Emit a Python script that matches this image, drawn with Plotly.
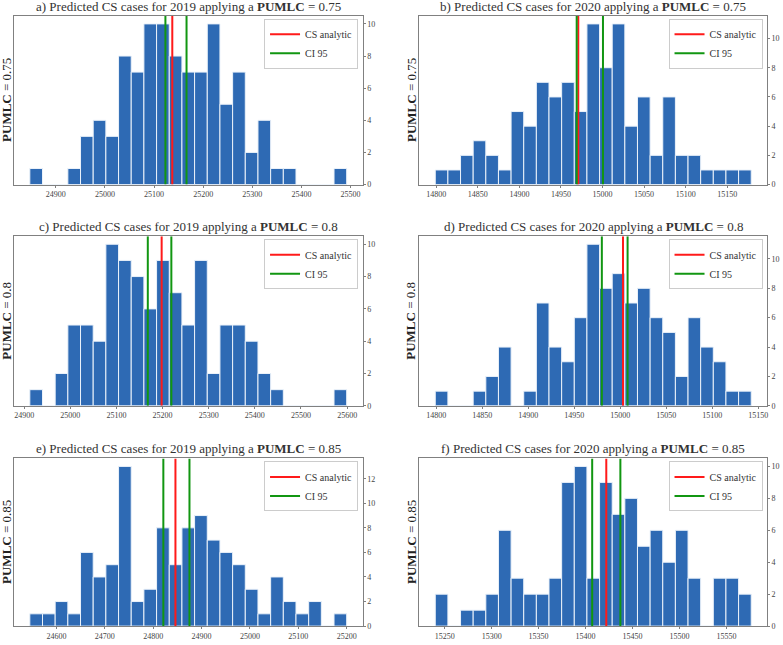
import plotly.graph_objects as go

W, H = 783, 645

# ---------------- data ----------------
titles = [
    "a) Predicted CS cases for 2019 applying a <b>PUMLC</b> = 0.75",
    "b) Predicted CS cases for 2020 applying a <b>PUMLC</b> = 0.75",
    "c) Predicted CS cases for 2019 applying a <b>PUMLC</b> = 0.8",
    "d) Predicted CS cases for 2020 applying a <b>PUMLC</b> = 0.8",
    "e) Predicted CS cases for 2019 applying a <b>PUMLC</b> = 0.85",
    "f) Predicted CS cases for 2020 applying a <b>PUMLC</b> = 0.85",
]
ylabels = [
    "<b>PUMLC</b> = 0.75", "<b>PUMLC</b> = 0.75",
    "<b>PUMLC</b> = 0.8", "<b>PUMLC</b> = 0.8",
    "<b>PUMLC</b> = 0.85", "<b>PUMLC</b> = 0.85",
]

counts_a = [1, 0, 0, 1, 3, 4, 3, 8, 7, 10, 10, 8, 7, 7, 10, 5, 7, 2, 4, 1, 1, 0, 0, 0, 1]
counts_b = [1, 1, 2, 3, 2, 1, 5, 4, 7, 6, 7, 5, 11, 8, 11, 4, 6, 2, 6, 2, 2, 1, 1, 1, 1]
counts_c = [1, 0, 2, 5, 5, 4, 10, 9, 8, 6, 9, 7, 5, 9, 2, 5, 5, 4, 2, 1, 0, 0, 0, 0, 1]
counts_d = [1, 0, 0, 1, 2, 4, 0, 1, 7, 4, 3, 6, 11, 8, 9, 7, 8, 6, 5, 2, 6, 4, 3, 1, 1]
counts_e = [1, 1, 2, 1, 6, 4, 5, 13, 2, 3, 8, 5, 8, 9, 7, 6, 5, 3, 1, 4, 2, 1, 2, 0, 1]
counts_f = [2, 0, 1, 1, 2, 6, 3, 2, 2, 3, 9, 10, 3, 9, 7, 8, 5, 6, 4, 6, 3, 0, 3, 3, 2]

# first bin edge and bin width of each histogram
bin_start = [24847.0, 14798.8, 24912.3, 14798.9, 24545.0, 15240.0]
bin_width = [25.8, 15.2, 27.47, 13.74, 26.2, 13.45]

cs_analytic = [25137.0, 14970.8, 25198.0, 15003.0, 24846.0, 15422.0]
ci95_low = [25123.0, 14968.9, 25168.0, 14980.0, 24821.0, 15407.0]
ci95_high = [25166.0, 15000.5, 25219.0, 15008.0, 24875.0, 15437.0]

x_dtick = [100, 50, 100, 50, 100, 50]

all_counts = [counts_a, counts_b, counts_c, counts_d, counts_e, counts_f]

# ---------------- layout geometry (pixels) ----------------
col_x = [(14, 363), (420, 768)]
row_y = [(16, 186), (238, 409), (462, 631)]

BAR_COLOR = "#2e6ab4"
FONT = "Liberation Serif"

fig = go.Figure()
layout = dict(
    width=W, height=H, autosize=False,
    margin=dict(l=0, r=0, t=0, b=0),
    paper_bgcolor="white", plot_bgcolor="white",
    showlegend=True,
    font=dict(family=FONT, color="#333333"),
    annotations=[],
)

for k in range(6):
    r, c = divmod(k, 2)
    x0, x1 = col_x[c]
    yt, yb = row_y[r]
    xd = [x0 / W, x1 / W]
    yd = [(H - yb) / H, (H - yt) / H]
    counts = all_counts[k]
    nb = len(counts)
    start, bw = bin_start[k], bin_width[k]
    centers = [start + (i + 0.5) * bw for i in range(nb)]
    end = start + nb * bw
    span = end - start
    xr = [start - 0.05 * span, end + 0.05 * span]
    ymax = max(counts) * 1.05
    sfx = "" if k == 0 else str(k + 1)
    xa, ya = "x" + sfx, "y" + sfx
    leg = "legend" + sfx

    fig.add_trace(go.Bar(
        x=centers, y=counts, width=[bw] * nb,
        marker=dict(color=BAR_COLOR, line=dict(color="rgba(235,242,250,1)", width=1)),
        xaxis=xa, yaxis=ya, showlegend=False, hoverinfo="skip",
    ))
    fig.add_trace(go.Scatter(
        x=[cs_analytic[k]] * 2, y=[0, ymax], mode="lines",
        line=dict(color="#ff1a1a", width=2), name="CS analytic",
        xaxis=xa, yaxis=ya, legend=leg, showlegend=True,
    ))
    fig.add_trace(go.Scatter(
        x=[ci95_low[k]] * 2, y=[0, ymax], mode="lines",
        line=dict(color="#119611", width=2), name="CI 95",
        xaxis=xa, yaxis=ya, legend=leg, showlegend=True, legendgroup="ci" + sfx,
    ))
    fig.add_trace(go.Scatter(
        x=[ci95_high[k]] * 2, y=[0, ymax], mode="lines",
        line=dict(color="#119611", width=2), name="CI 95",
        xaxis=xa, yaxis=ya, legend=leg, showlegend=False, legendgroup="ci" + sfx,
    ))

    layout["xaxis" + sfx] = dict(
        domain=xd, anchor=ya, range=xr, dtick=x_dtick[k], tick0=0, tickformat="d",
        showgrid=False, zeroline=False, showline=True, mirror=True,
        linecolor="#808080", linewidth=1, ticks="outside", ticklen=2,
        tickcolor="#808080", tickfont=dict(family=FONT, size=8, color="#444444"),
    )
    layout["yaxis" + sfx] = dict(
        domain=yd, anchor=xa, range=[0, ymax], dtick=2, side="right",
        showgrid=False, zeroline=False, showline=True, mirror=True,
        linecolor="#808080", linewidth=1, ticks="outside", ticklen=2,
        tickcolor="#808080", tickfont=dict(family=FONT, size=8, color="#444444"),
    )
    layout[leg] = dict(
        x=(x1 - 4.5) / W, y=(H - yt - 3) / H, xanchor="right", yanchor="top",
        bgcolor="rgba(255,255,255,0.85)", bordercolor="#cccccc", borderwidth=1,
        font=dict(family=FONT, size=10, color="#333333"),
        itemwidth=30, tracegroupgap=0,
    )
    layout["annotations"].append(dict(
        text=titles[k], x=(x0 + x1) / 2 / W, y=(H - yt) / H,
        xref="paper", yref="paper", xanchor="center", yanchor="bottom",
        showarrow=False, yshift=0, font=dict(family=FONT, size=13, color="#333333"),
    ))
    lab_x = 6.7 if c == 0 else 411.3
    layout["annotations"].append(dict(
        text=ylabels[k], x=lab_x / W, y=(H - (yt + yb) / 2) / H,
        xref="paper", yref="paper", xanchor="center", yanchor="middle",
        textangle=-90, showarrow=False,
        font=dict(family=FONT, size=13, color="#222222"),
    ))

fig.update_layout(**layout)
# remove the browser's default 8px body margin so the figure sits at the page origin
fig.write_html(
    "out.html",
    config={"displayModeBar": False},
    post_script="document.body.style.margin='0px';",
)
